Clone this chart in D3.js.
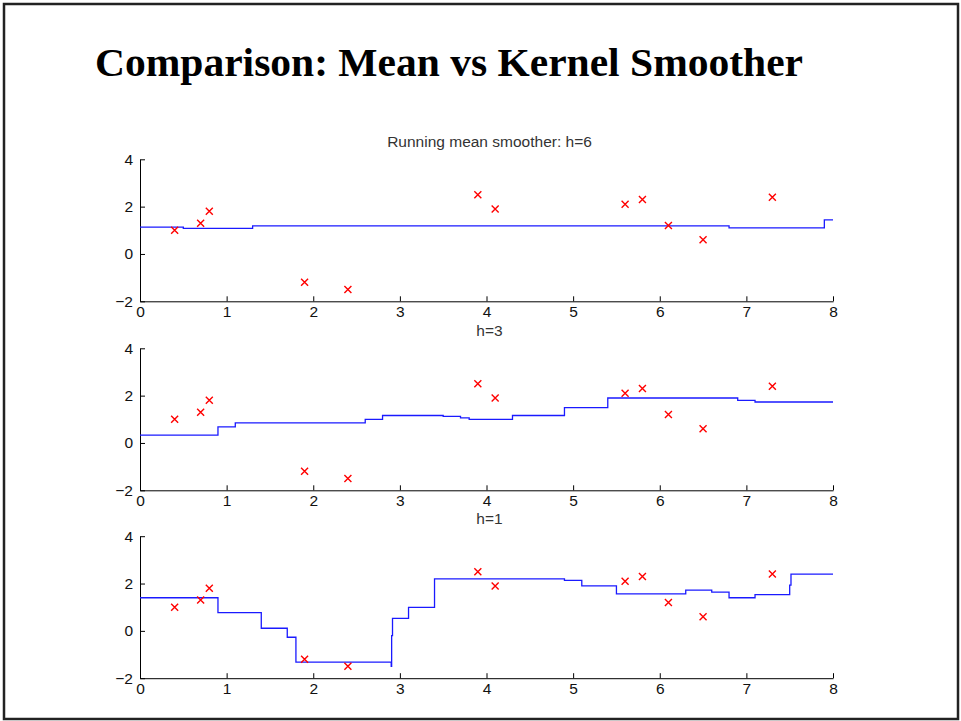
<!DOCTYPE html>
<html>
<head>
<meta charset="utf-8">
<script src="https://cdn.jsdelivr.net/npm/d3@7"></script>
<style>
  html, body { margin: 0; padding: 0; background: #fff; }
  svg { display: block; }
</style>
</head>
<body>
<script>
// Observations
const obsX = [0.4, 0.7, 0.8, 1.9, 2.4, 3.9, 4.1, 5.6, 5.8, 6.1, 6.5, 7.3];
const obsY = [1.0, 1.3, 1.8, -1.2, -1.5, 2.5, 1.9, 2.1, 2.3, 1.2, 0.6, 2.4];

// Smoother step functions: each value holds from its start until the next start
const h6Starts = [0, 0.5, 1.3, 6.8, 7.9];
const h6Values = [1.13, 1.08, 1.19, 1.10, 1.44];

const h3Starts = [0, 0.9, 1.1, 2.6, 2.8, 3.5, 3.7, 3.8, 4.3, 4.9, 5.4, 6.9, 7.1];
const h3Values = [0.33, 0.68, 0.85, 1.0, 1.16, 1.12, 1.06, 1.0, 1.16, 1.49, 1.9, 1.8, 1.73];

const h1Starts = [0, 0.9, 1.4, 1.7, 1.8, 2.9, 2.905, 2.915, 3.1, 3.4, 4.9, 5.1, 5.5, 6.3, 6.6, 6.8, 7.1, 7.5, 7.515];
const h1Values = [1.4, 0.77, 0.11, -0.27, -1.32, -1.5, -0.2, 0.53, 0.99, 2.2, 2.13, 1.9, 1.56, 1.72, 1.64, 1.4, 1.53, 1.93, 2.4];

const panelTitles = ["Running mean smoother: h=6", "h=3", "h=1"];
const xTicks = [0, 1, 2, 3, 4, 5, 6, 7, 8];
const yTicks = [-2, 0, 2, 4];
const xDomain = [0, 8];
const yDomain = [-2, 4];
const slideTitle = "Comparison: Mean vs Kernel Smoother";

const W = 961, H = 721;
const svg = d3.select("body").append("svg").attr("width", W).attr("height", H);

// Slide frame
svg.append("rect")
  .attr("x", 4).attr("y", 4).attr("width", W - 7).attr("height", H - 6)
  .attr("fill", "#fff").attr("stroke", "#222").attr("stroke-width", 2.5);

svg.append("text")
  .attr("x", 95).attr("y", 76)
  .attr("font-family", "'Liberation Serif', 'DejaVu Serif', serif")
  .attr("font-weight", "bold")
  .attr("font-size", 40)
  .attr("textLength", 708)
  .attr("lengthAdjust", "spacingAndGlyphs")
  .attr("fill", "#000")
  .text(slideTitle);

const panels = [
  { starts: h6Starts, values: h6Values, top: 159.3 },
  { starts: h3Starts, values: h3Values, top: 348.3 },
  { starts: h1Starts, values: h1Values, top: 536.2 }
];

const plotLeft = 140, plotRight = 833, plotH = 142;

const x = d3.scaleLinear().domain(xDomain).range([plotLeft, plotRight]);

panels.forEach((p, i) => {
  const y = d3.scaleLinear().domain(yDomain).range([p.top + plotH, p.top]);
  const g = svg.append("g");

  // Axes with inward ticks
  const xAxis = d3.axisBottom(x).tickValues(xTicks).tickFormat(d3.format("d"))
    .tickSizeInner(-5).tickSizeOuter(0).tickPadding(5);
  const yAxis = d3.axisLeft(y).tickValues(yTicks).tickFormat(d3.format("d"))
    .tickSizeInner(-5).tickSizeOuter(0).tickPadding(7);

  const gx = g.append("g").attr("transform", `translate(0,${y(yDomain[0])})`).call(xAxis);
  const gy = g.append("g").attr("transform", `translate(${x(xDomain[0])},0)`).call(yAxis);
  [gx, gy].forEach(a => {
    a.selectAll("path, line").attr("stroke", "#000").attr("stroke-width", 1);
    a.selectAll("text")
      .attr("font-family", "'Liberation Sans', Arial, sans-serif")
      .attr("font-size", 15.5).attr("fill", "#111");
  });

  // Panel title
  g.append("text")
    .attr("x", (plotLeft + plotRight) / 2 + 3)
    .attr("y", p.top - 12)
    .attr("text-anchor", "middle")
    .attr("font-family", "'Liberation Sans', Arial, sans-serif")
    .attr("font-size", 15.5)
    .attr("fill", "#333")
    .text(panelTitles[i]);

  // Step curve
  const pts = p.starts.map((s, k) => [s, p.values[k]]);
  pts.push([xDomain[1], p.values[p.values.length - 1]]);
  g.append("path")
    .datum(pts)
    .attr("fill", "none")
    .attr("stroke", "#1a1aff")
    .attr("stroke-width", 1.3)
    .attr("d", d3.line().x(d => x(d[0])).y(d => y(d[1])).curve(d3.curveStepAfter));

  // Observation crosses
  const r = 3.5;
  g.append("g").selectAll("path")
    .data(obsX.map((v, k) => [v, obsY[k]]))
    .join("path")
    .attr("transform", d => `translate(${x(d[0])},${y(d[1])})`)
    .attr("d", `M${-r},${-r}L${r},${r}M${-r},${r}L${r},${-r}`)
    .attr("stroke", "#ff0000")
    .attr("stroke-width", 1.4)
    .attr("fill", "none");
});
</script>
</body>
</html>
